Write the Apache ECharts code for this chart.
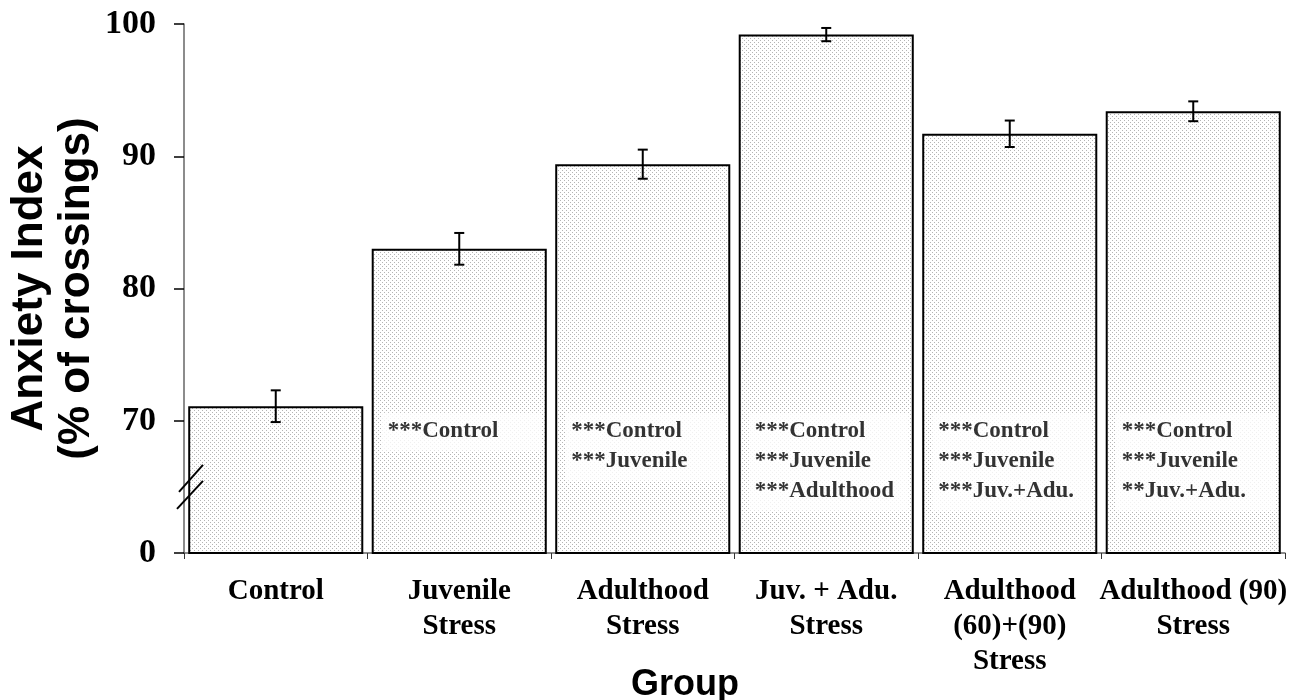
<!DOCTYPE html>
<html>
<head>
<meta charset="utf-8">
<script src="https://cdn.jsdelivr.net/npm/echarts@6/dist/echarts.min.js"></script>
<style>
html,body{margin:0;padding:0;background:#fff;}
#chart{width:1311px;height:700px;}
</style>
</head>
<body>
<div id="chart"></div>
<script>
// ---- data ----
const categories = ['Control', 'Juvenile\nStress', 'Adulthood\nStress', 'Juv. + Adu.\nStress', 'Adulthood\n(60)+(90)\nStress', 'Adulthood (90)\nStress'];
const means = [71.1, 83.0, 89.4, 99.2, 91.7, 93.4];
const errors = [1.2, 1.2, 1.1, 0.5, 1.0, 0.75];
const annotations = [
  '',
  '***Control',
  '***Control\n***Juvenile',
  '***Control\n***Juvenile\n***Adulthood',
  '***Control\n***Juvenile\n***Juv.+Adu.',
  '***Control\n***Juvenile\n**Juv.+Adu.'
];
// axis is broken: the bottom tick (60 on the drawn scale) is labelled 0
const yTickValues = [60, 70, 80, 90, 100];
const yTickLabels = ['0', '70', '80', '90', '100'];
const xTitle = 'Group';
const yTitle = 'Anxiety Index\n(% of crossings)';

// ---- stipple pattern ----
const pc = document.createElement('canvas');
pc.width = 4; pc.height = 4;
const pctx = pc.getContext('2d');
pctx.fillStyle = '#ffffff'; pctx.fillRect(0, 0, 4, 4);
pctx.fillStyle = '#b4b4b4';
pctx.fillRect(0, 0, 1, 1);
pctx.fillRect(2, 2, 1, 1);

const serif = '"Liberation Serif", "Times New Roman", serif';
const sans = '"Liberation Sans", Arial, sans-serif';

const chart = echarts.init(document.getElementById('chart'), null, {renderer: 'canvas'});

const annotAnchor = 70.57;

const option = {
  animation: false,
  backgroundColor: '#fff',
  grid: {left: 184, right: 26, top: 24, bottom: 147, containLabel: false, outerBoundsMode: 'none'},
  xAxis: {
    type: 'category',
    data: categories,
    boundaryGap: true,
    axisLine: {lineStyle: {color: '#666', width: 1.5}},
    axisTick: {show: true, length: 6, lineStyle: {color: '#333', width: 1}},
    axisLabel: {
      interval: 0,
      margin: 21,
      color: '#000',
      fontFamily: serif,
      fontWeight: 'bold',
      fontSize: 29,
      lineHeight: 35
    }
  },
  yAxis: {
    type: 'value',
    min: 60,
    max: 100,
    interval: 10,
    name: yTitle,
    nameLocation: 'middle',
    nameGap: 84,
    nameMoveOverlap: false,
    nameTextStyle: {color: '#000', fontFamily: sans, fontWeight: 'bold', fontSize: 44, lineHeight: 47},
    axisLine: {show: true, lineStyle: {color: '#666', width: 1.5}},
    axisTick: {show: true, inside: false, length: 10, lineStyle: {color: '#000', width: 1.5}},
    splitLine: {show: false},
    axisLabel: {
      margin: 28,
      color: '#000',
      fontFamily: serif,
      fontWeight: 'bold',
      fontSize: 34,
      formatter: function (v) {
        const i = yTickValues.indexOf(v);
        return i >= 0 ? yTickLabels[i] : '';
      }
    }
  },
  series: [
    {
      type: 'bar',
      data: means,
      barCategoryGap: '4.6%',
      itemStyle: {color: {image: pc, repeat: 'repeat'}, borderColor: '#000', borderWidth: 2},
      z: 2
    },
    {
      type: 'scatter',
      data: annotations.map(function (a, i) { return a ? {value: [i, annotAnchor], text: a} : null; }).filter(Boolean),
      symbolSize: 1,
      itemStyle: {color: 'transparent'},
      z: 3,
      silent: true,
      label: {
        show: true,
        position: [-77, 0],
        align: 'left',
        verticalAlign: 'top',
        formatter: function (p) { return p.data.text; },
        color: '#000',
        fontFamily: serif,
        fontWeight: 'bold',
        fontSize: 23,
        lineHeight: 30,
        width: 148,
        padding: [3, 6, 5, 6],
        backgroundColor: '#fff'
      }
    },
    {
      type: 'custom',
      z: 4,
      data: means.map(function (m, i) { return [i, m, errors[i]]; }),
      renderItem: function (params, api) {
        const x = api.value(0), m = api.value(1), e = api.value(2);
        const top = api.coord([x, m + e]);
        const bot = api.coord([x, m - e]);
        const hw = 5;
        const st = {stroke: '#000', lineWidth: 2};
        return {
          type: 'group',
          children: [
            {type: 'line', shape: {x1: top[0], y1: top[1], x2: bot[0], y2: bot[1]}, style: st},
            {type: 'line', shape: {x1: top[0] - hw, y1: top[1], x2: top[0] + hw, y2: top[1]}, style: st},
            {type: 'line', shape: {x1: bot[0] - hw, y1: bot[1], x2: bot[0] + hw, y2: bot[1]}, style: st}
          ]
        };
      }
    }
  ]
};

chart.setOption(option);

// axis break marks, placed on the y axis at the drawn value 65
const by = chart.convertToPixel({yAxisIndex: 0}, 65);
const bx = 184;
chart.setOption({
  graphic: [
    {type: 'text', left: 631, top: 667, style: {text: xTitle, font: 'bold 36px ' + sans, fill: '#000'}},
    {type: 'line', z: 10, shape: {x1: bx - 5, y1: by + 5, x2: bx + 19, y2: by - 22}, style: {stroke: '#000', lineWidth: 2}},
    {type: 'line', z: 10, shape: {x1: bx - 7, y1: by + 22, x2: bx + 19, y2: by - 6}, style: {stroke: '#000', lineWidth: 2}}
  ]
});
</script>
</body>
</html>
